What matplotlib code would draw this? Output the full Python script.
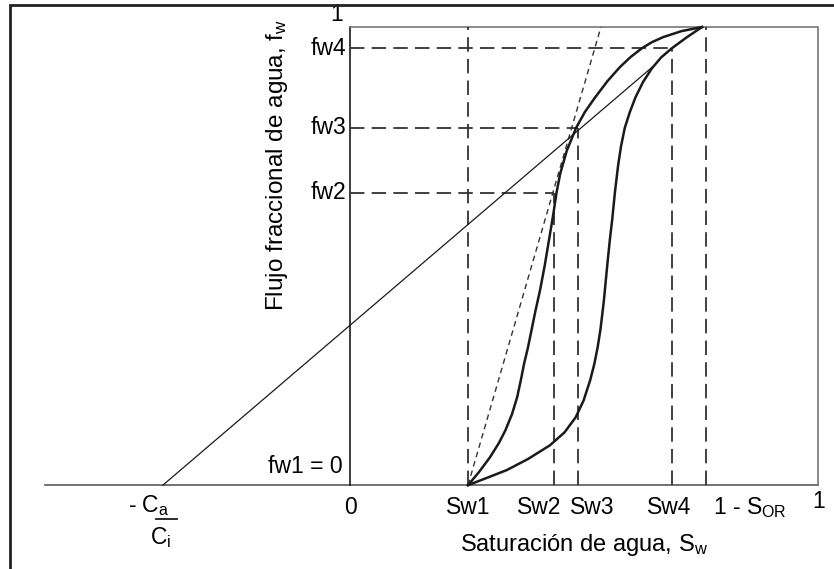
import matplotlib.pyplot as plt
from matplotlib.patches import Rectangle

plt.rcParams['font.family'] = ['Liberation Sans', 'DejaVu Sans']
plt.rcParams['mathtext.fontset'] = 'custom'
plt.rcParams['mathtext.rm'] = 'Liberation Sans'
plt.rcParams['mathtext.it'] = 'Liberation Sans'

# saturation / fractional-flow reference points
sw_marks = [0.252, 0.435, 0.487, 0.688, 0.760]
sw_labels = ['Sw1', 'Sw2', 'Sw3', 'Sw4', r'1 - S$_{\mathregular{OR}}$']
sw_label_pos = [0.252, 0.404, 0.517, 0.682, 0.855]
fw_marks = [0.638, 0.780, 0.954]
fw_labels = ['fw2', 'fw3', 'fw4']
ca_ci = -0.40          # -Ca/Ci intercept on the saturation axis
x_left = -0.652        # where the saturation axis starts

# fractional flow curve with polymer (left) and water only (right)
curve_a_fw = [0.000, 0.028, 0.061, 0.092, 0.120, 0.155, 0.192, 0.230, 0.266, 0.300,
              0.335, 0.380, 0.426, 0.480, 0.535, 0.590, 0.638, 0.680, 0.730, 0.780,
              0.815, 0.847, 0.882, 0.913, 0.935, 0.954, 0.967, 0.978, 0.991, 1.000]
curve_a_sw = [0.252, 0.275, 0.299, 0.318, 0.332, 0.346, 0.357, 0.365, 0.372, 0.380,
              0.387, 0.396, 0.406, 0.416, 0.425, 0.434, 0.441, 0.449, 0.463, 0.483,
              0.502, 0.524, 0.550, 0.577, 0.600, 0.624, 0.645, 0.669, 0.708, 0.752]
curve_b_fw = [0.000, 0.015, 0.033, 0.057, 0.087, 0.115, 0.148, 0.185, 0.229, 0.265,
              0.301, 0.340, 0.400, 0.485, 0.535, 0.579, 0.640, 0.700, 0.740, 0.780,
              0.815, 0.847, 0.880, 0.910, 0.934, 0.954, 0.978, 1.000]
curve_b_sw = [0.252, 0.290, 0.335, 0.380, 0.427, 0.458, 0.482, 0.499, 0.513, 0.522,
              0.529, 0.535, 0.542, 0.550, 0.555, 0.560, 0.566, 0.573, 0.579, 0.587,
              0.598, 0.610, 0.626, 0.645, 0.665, 0.688, 0.720, 0.752]

# straight line from -Ca/Ci through (Sw3, fw3), and tangent from Sw1
line_sw = [ca_ci, 0.645]
line_fw = [0.0, 0.912]
tan_sw = [0.252, 0.536]
tan_fw = [0.0, 1.0]

fig = plt.figure(figsize=(8.34, 5.69), dpi=100)
ax = fig.add_axes([0, 0, 1, 1])
ax.set_xlim(-0.748, 1.034)
ax.set_ylim(-0.183, 1.059)
ax.axis('off')

ink = '#1a1a1a'
grey = '#5a5a5a'

# outer frame
fig.patches.append(Rectangle((10 / 834, -0.05), 1.2, 1 - 5 / 569 + 0.05,
                             transform=fig.transFigure, fill=False,
                             ec='#222222', lw=2.0))

# plot box
ax.plot([x_left, 1], [0, 0], color=grey, lw=1.2)
ax.plot([0, 0], [0, 1], color=ink, lw=1.2)
ax.plot([0, 1, 1], [1, 1, 0], color='#777777', lw=1.2)

# dashed guides
dash = dict(color='#333333', lw=1.3, dashes=(8, 4))
ax.plot([sw_marks[0]] * 2, [0, 1], **dash)
ax.plot([sw_marks[4]] * 2, [0, 1], **dash)
for s, f in zip(sw_marks[1:4], fw_marks):
    ax.plot([s, s], [0, f], **dash)
    ax.plot([0, s], [f, f], **dash)

ax.plot(tan_sw, tan_fw, color='#333333', lw=1.0, dashes=(4, 3))
ax.plot(line_sw, line_fw, color=ink, lw=0.9)
ax.plot(curve_a_sw, curve_a_fw, color=ink, lw=1.8)
ax.plot(curve_b_sw, curve_b_fw, color=ink, lw=1.8)

# tick labels
fs = 16.5
for s, lab in zip([0] + sw_label_pos, ['0'] + sw_labels):
    ax.text(s, -0.048, lab, ha='center', va='center', fontsize=fs)
ax.text(1.002, -0.035, '1', ha='center', va='center', fontsize=fs)
ax.text(-0.028, 1.028, '1', ha='center', va='center', fontsize=fs)
for f, lab in zip(fw_marks, fw_labels):
    ax.text(-0.008, f, lab, ha='right', va='center', fontsize=fs)
ax.text(-0.015, 0.040, 'fw1 = 0', ha='right', va='center', fontsize=fs)

# -Ca/Ci written as a stacked fraction
ax.text(ca_ci - 0.030, -0.045, r'- C$_{\mathregular{a}}$', ha='center', va='center', fontsize=fs)
ax.plot([ca_ci - 0.015, ca_ci + 0.030], [-0.074, -0.074], color=ink, lw=1.3)
ax.text(ca_ci - 0.005, -0.114, r'C$_{\mathregular{i}}$', ha='center', va='center', fontsize=fs)

ax.text(0.500, -0.131, r'Saturación de agua, S$_{\mathregular{w}}$',
        ha='center', va='center', fontsize=17)
ax.text(-0.156, 0.699, r'Flujo fraccional de agua, f$_{\mathregular{w}}$',
        ha='center', va='center', rotation=90, fontsize=17.5)

fig.savefig('out.png', dpi=100)
